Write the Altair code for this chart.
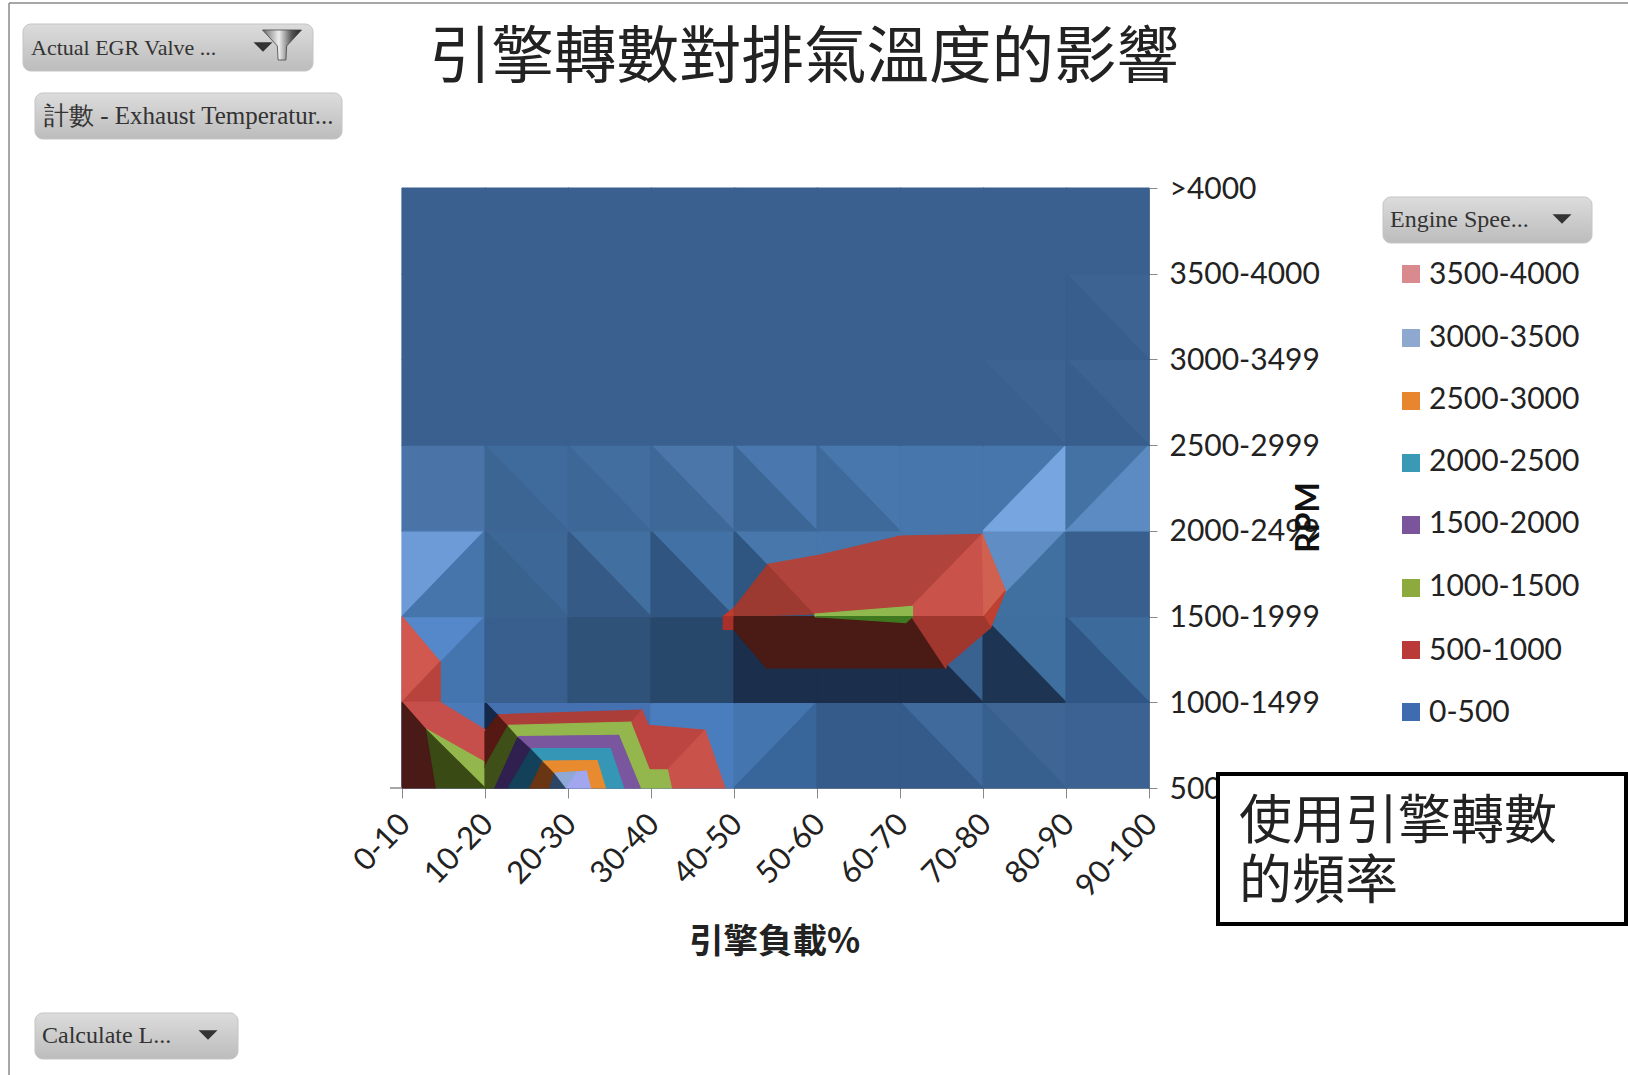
import altair as alt
import pandas as pd

# Category labels
LOAD_BINS = ["0-10", "10-20", "20-30", "30-40", "40-50", "50-60", "60-70", "70-80", "80-90", "90-100"]
RPM_BINS = ["500-999", "1000-1499", "1500-1999", "2000-2499", "2500-2999", "3000-3499", "3500-4000", ">4000"]
SERIES = ["3500-4000", "3000-3500", "2500-3000", "2000-2500", "1500-2000", "1000-1500", "500-1000", "0-500"]
SERIES_COLORS = ["#D98A8E", "#8FA8D0", "#E8852F", "#3A9AB5", "#7B559C", "#8DAA3F", "#B93A36", "#3F6CB0"]

# Surface cells, bottom row first: (diagonal, first facet shade, second facet shade).
# "\\" splits a cell top-left to bottom-right (upper-right facet, lower-left facet);
# "/" splits it bottom-left to top-right (upper-left facet, lower-right facet).
FLAT = "#3A6090"
ROW_0 = [("\\", "#4A7AB8", "#4A7AB8"), ("\\", "#4571B0", "#14284A"), ("\\", "#4571B0", "#4571B0"),
         ("\\", "#4A7DBD", "#4A7DBD"), ("/", "#4575AF", "#38659A"), ("\\", "#345B89", "#345B89"),
         ("\\", "#406A9C", "#345B89"), ("\\", "#3E6594", "#37608F"), ("\\", "#3B6292", "#3B6292")]
ROW_1 = [("/", "#5588CA", "#4575AE"), ("\\", "#385F8E", "#385F8E"), ("\\", "#2F5279", "#2F5279"),
         ("\\", "#28486B", "#28486B"), ("\\", "#1B2F4C", "#1B2F4C"), ("\\", "#1B2F4C", "#1B2F4C"),
         ("\\", "#3A6290", "#1B2F4C"), ("\\", "#3F6F9F", "#1D3552"), ("\\", "#3C6A9A", "#2F5684")]
ROW_2 = [("/", "#6C9BD8", "#4575AB"), ("\\", "#3C6796", "#3A628F"), ("\\", "#416F9F", "#355A85"),
         ("\\", "#4272A5", "#305580"), ("\\", "#4777AB", "#2F5680"), ("\\", "#4676AB", "#4676AB"),
         ("\\", "#4676AB", "#4676AB"), ("/", "#5F8DC4", "#40709F"), ("\\", "#385F8E", "#385F8E")]
ROW_3 = [("\\", "#4A74A8", "#4A74A8"), ("\\", "#3F6B9C", "#3C6594"), ("\\", "#416D9F", "#3C6796"),
         ("\\", "#4A76AA", "#3D6897"), ("\\", "#4A78AE", "#3B6695"), ("\\", "#4777AC", "#3D6A9A"),
         ("\\", "#4676AB", "#4676AB"), ("/", "#4676AB", "#76A5DF"), ("/", "#4472A5", "#5B8BC2")]
ROW_4 = [("\\", FLAT, FLAT)] * 7 + [("\\", "#3C6392", FLAT), ("\\", "#3C6392", "#385E8D")]
ROW_5 = [("\\", FLAT, FLAT)] * 8 + [("\\", "#3C6392", "#385E8D")]
ROW_6 = [("\\", FLAT, FLAT)] * 9
SURFACE_ROWS = [ROW_0, ROW_1, ROW_2, ROW_3, ROW_4, ROW_5, ROW_6]

# Contour regions as (load, rpm) vertices in axis units, with their shaded colours
CONTOURS = [
    ("#D0584E", [(0, 2.0), (0.46, 1.47), (0, 1.0)]),
    ("#B8433D", [(0, 1.0), (0.46, 1.47), (0.46, 1.0)]),
    ("#C64F4B", [(0, 1.0), (0.46, 1.0), (1, 0.68), (1, 0.30), (0.28, 0.69)]),
    ("#94B74D", [(0.28, 0.69), (1, 0.30), (1, 0)]),
    ("#3A4A14", [(0.28, 0.69), (1, 0), (0.40, 0)]),
    ("#4A1A16", [(0, 1.0), (0.28, 0.69), (0.40, 0), (0, 0)]),
    ("#551812", [(1, 0.66), (1.16, 0.856), (1.28, 0.73), (1, 0.25)]),
    ("#3E5018", [(1, 0.25), (1.28, 0.73), (1.40, 0.60), (1.12, 0), (1, 0)]),
    ("#2F2050", [(1.40, 0.60), (1.56, 0.46), (1.28, 0), (1.12, 0)]),
    ("#14415A", [(1.56, 0.46), (1.70, 0.315), (1.54, 0), (1.28, 0)]),
    ("#6A3512", [(1.70, 0.315), (1.84, 0.175), (1.78, 0), (1.54, 0)]),
    ("#2C4565", [(1.84, 0.175), (1.98, 0), (1.78, 0)]),
    ("#AC3E3A", [(1.16, 0.856), (2.89, 0.907), (2.77, 0.77), (1.28, 0.73)]),
    ("#94B74D", [(1.28, 0.73), (2.77, 0.77), (2.99, 0.226), (3.21, 0.226), (3.26, 0), (2.87, 0),
                 (2.61, 0.615), (1.40, 0.60)]),
    ("#7A569E", [(1.40, 0.60), (2.61, 0.615), (2.87, 0), (2.67, 0), (2.51, 0.46), (1.56, 0.46)]),
    ("#3596B6", [(1.56, 0.46), (2.51, 0.46), (2.67, 0), (2.45, 0), (2.35, 0.32), (1.70, 0.315)]),
    ("#E88A2E", [(1.70, 0.315), (2.35, 0.32), (2.45, 0), (2.27, 0), (2.22, 0.20), (1.84, 0.175)]),
    ("#8FA9D6", [(1.84, 0.175), (2.12, 0.19), (1.98, 0)]),
    ("#A2A6EE", [(1.98, 0), (2.12, 0.19), (2.22, 0.20), (2.27, 0)]),
    ("#BC4541", [(2.89, 0.907), (2.97, 0.73), (3.65, 0.673), (3.27, 0.284), (3.21, 0.226), (2.99, 0.226),
                 (2.77, 0.77)]),
    ("#C9524A", [(3.65, 0.673), (3.89, 0), (3.26, 0), (3.21, 0.226), (3.27, 0.284)]),
    ("#C23A2C", [(3.87, 2.0), (4, 2.1), (4, 2.0)]),
    ("#A8302A", [(3.87, 2.0), (4, 2.0), (4, 1.85), (3.87, 1.85)]),
    ("#9C3A31", [(4, 2.1), (4.41, 2.61), (4.97, 2.03), (4, 2.0)]),
    ("#B0443C", [(4.41, 2.61), (5, 2.71), (6, 2.94), (6.99, 2.96), (6.13, 2.105), (4.97, 2.03)]),
    ("#C9524A", [(6.99, 2.96), (7.01, 2.0), (6.14, 2.0), (6.13, 2.105)]),
    ("#D0604F", [(6.99, 2.96), (7.27, 2.3), (7.01, 2.0)]),
    ("#BE4030", [(7.27, 2.3), (7.09, 1.87), (7.01, 2.0)]),
    ("#4A1A14", [(4, 2.0), (6.14, 2.0), (6.55, 1.40), (4.39, 1.40), (4, 1.85)]),
    ("#A0372F", [(6.14, 2.0), (7.01, 2.0), (7.09, 1.87), (6.57, 1.44), (6.55, 1.40)]),
    ("#8FB84E", [(4.97, 2.03), (6.15, 2.12), (6.15, 2.0), (4.98, 2.0)]),
    ("#3F7A20", [(4.98, 2.0), (6.15, 2.0), (6.07, 1.93)]),
]

# Page geometry
LEFT, TOP, PLOT_W, PLOT_H = 402, 188, 747, 600
INK = "#222222"
AXIS_GREY = "#8a8a8a"
SANS = "Lato"
CJK = "Noto Sans CJK TC"
SERIF = "Liberation Serif"


def surface_polygons():
    rows = []
    pid = 0
    for j, row in enumerate(SURFACE_ROWS):
        for i, (diagonal, first, second) in enumerate(row):
            tl, tr, bl, br = (i, j + 1), (i + 1, j + 1), (i, j), (i + 1, j)
            if diagonal == "\\":
                facets = [(first, [tl, tr, br]), (second, [tl, br, bl])]
            else:
                facets = [(first, [bl, tl, tr]), (second, [bl, tr, br])]
            for shade, pts in facets:
                rows += polygon_rows(pid, shade, pts)
                pid += 1
    return rows


def polygon_rows(pid, shade, pts):
    closed = list(pts) + [pts[0]]
    return [{"pid": pid, "step": k, "shade": shade, "load": p[0], "rpm": p[1]} for k, p in enumerate(closed)]


surface_df = pd.DataFrame(surface_polygons())
contour_df = pd.DataFrame([r for n, (shade, pts) in enumerate(CONTOURS) for r in polygon_rows(n, shade, pts)])

x_enc = alt.X(
    "load:Q",
    scale=alt.Scale(domain=[0, 9], nice=False, zero=False),
    axis=alt.Axis(
        values=list(range(len(LOAD_BINS))),
        labelExpr=f"{LOAD_BINS}[datum.value]",
        labelAngle=-46, labelAlign="right", labelBaseline="middle", labelPadding=21, labelOffset=3,
        labelFont=SANS, labelFontSize=31, labelColor=INK, labelOverlap=False, labelBound=False,
        labelFlush=False, tickColor=AXIS_GREY, tickSize=10, domainColor=AXIS_GREY, grid=False,
        title="引擎負載%", titleFont=CJK, titleFontSize=34.5, titleFontWeight="bold", titleColor=INK,
        titleX=372, titleY=137, titleAlign="center",
    ),
)
y_enc = alt.Y(
    "rpm:Q",
    scale=alt.Scale(domain=[0, 7], nice=False, zero=False),
    axis=alt.Axis(
        orient="right", values=list(range(len(RPM_BINS))),
        labelExpr=f"{RPM_BINS}[datum.value]",
        labelAlign="left", labelBaseline="middle", labelPadding=12, labelOffset=1,
        labelFont=SANS, labelFontSize=30, labelColor=INK, labelOverlap=False, labelBound=False,
        labelFlush=False, tickColor=AXIS_GREY, tickSize=8, domainColor=AXIS_GREY, grid=False,
        title="RPM", titleFont=SANS, titleFontSize=32, titleFontWeight="bold", titleColor="#111111",
        titleX=176, titleY=329, titleAngle=-90, titleAlign="center",
    ),
)


def polygons(frame):
    return alt.Chart(frame).mark_line(strokeWidth=1.2).encode(
        x=x_enc, y=y_enc,
        detail="pid:N", order="step:Q",
        fill=alt.Fill("shade:N", scale=None),
        stroke=alt.Stroke("shade:N", scale=None),
    )


def px(v):
    return v - LEFT


def py(v):
    return v - TOP


ID_X = dict(scale=None, axis=None)
ID_Y = dict(scale=None, axis=None)

# Slicer buttons: label, left, top, right, bottom, text start, text size
BUTTON_LABELS = ["Actual EGR Valve ...", "計數 - Exhaust Temperatur...", "Engine Spee...", "Calculate L..."]
BUTTON_LEFT = [23, 35, 1383, 35]
BUTTON_RIGHT = [313, 342, 1592, 238]
BUTTON_TOP = [24, 93, 197, 1013]
BUTTON_BOTTOM = [71, 139, 243, 1059]
BUTTON_TEXT_X = [31, 44, 1390, 42]
BUTTON_FONT = [22, 25, 24, 24]
ARROW_X = [263, 1562, 208]
ARROW_Y = [47, 219, 1035]

buttons_df = pd.DataFrame({
    "label": BUTTON_LABELS,
    "x0": [px(v) for v in BUTTON_LEFT], "x1": [px(v) for v in BUTTON_RIGHT],
    "y0": [py(v) for v in BUTTON_TOP], "y1": [py(v) for v in BUTTON_BOTTOM],
    "tx": [px(v) for v in BUTTON_TEXT_X],
    "ty": [py((a + b) / 2) for a, b in zip(BUTTON_TOP, BUTTON_BOTTOM)],
    "fs": BUTTON_FONT,
})
button_fill = alt.Gradient(
    gradient="linear", x1=0, x2=0, y1=0, y2=1,
    stops=[alt.GradientStop(offset=0, color="#dcdcdc"), alt.GradientStop(offset=1, color="#bcbcbc")],
)
button_rects = alt.Chart(buttons_df).mark_rect(
    fill=button_fill, stroke="#c4c4c4", strokeWidth=1, cornerRadius=8
).encode(
    x=alt.X("x0:Q", **ID_X), x2="x1:Q", y=alt.Y("y0:Q", **ID_Y), y2="y1:Q"
)
button_text = alt.Chart(buttons_df).mark_text(
    font=SERIF, color="#333333", align="left", baseline="middle"
).encode(
    x=alt.X("tx:Q", **ID_X), y=alt.Y("ty:Q", **ID_Y), text="label:N",
    size=alt.Size("fs:Q", scale=None, legend=None),
)

arrow_df = pd.DataFrame({"ax": [px(v) for v in ARROW_X], "ay": [py(v) for v in ARROW_Y]})
arrows = alt.Chart(arrow_df).mark_point(
    shape="M-1,-0.5 L1,-0.5 L0,0.5 Z", filled=True, fill="#333333", stroke=None, opacity=1, size=361
).encode(x=alt.X("ax:Q", **ID_X), y=alt.Y("ay:Q", **ID_Y))

funnel_fill = alt.Gradient(
    gradient="linear", x1=0, x2=1, y1=0, y2=0,
    stops=[alt.GradientStop(offset=0, color="#666666"), alt.GradientStop(offset=0.42, color="#eeeeee"),
           alt.GradientStop(offset=0.75, color="#555555"), alt.GradientStop(offset=1, color="#222222")],
)
funnel_df = pd.DataFrame({"ax": [px(282)], "ay": [py(45)]})
funnel = alt.Chart(funnel_df).mark_point(
    shape="M-1,-0.77 L1,-0.77 L0.24,0.05 L0.2,0.77 L-0.2,0.77 L-0.24,0.05 Z",
    filled=True, fill=funnel_fill, stroke="#444444", strokeWidth=0.8, opacity=1, size=1521,
).encode(x=alt.X("ax:Q", **ID_X), y=alt.Y("ay:Q", **ID_Y))

# Legend built from the series arrays
LEGEND_SWATCH_Y = [274, 338, 401, 463, 525, 588, 650, 712]
LEGEND_TEXT_Y = [275, 337.5, 400, 462, 524, 587, 651, 713]
legend_df = pd.DataFrame({
    "series": SERIES, "swatch": SERIES_COLORS,
    "sx": [px(1411)] * len(SERIES), "tx": [px(1429)] * len(SERIES),
    "sy": [py(v) for v in LEGEND_SWATCH_Y],
    "ly": [py(v) for v in LEGEND_TEXT_Y],
})
legend_swatches = alt.Chart(legend_df).mark_square(size=324, opacity=1).encode(
    x=alt.X("sx:Q", **ID_X), y=alt.Y("sy:Q", **ID_Y), fill=alt.Fill("swatch:N", scale=None)
)
legend_text = alt.Chart(legend_df).mark_text(
    font=SANS, fontSize=30, color=INK, align="left", baseline="middle"
).encode(x=alt.X("tx:Q", **ID_X), y=alt.Y("ly:Q", **ID_Y), text="series:N")

# Outer frame of the sheet and the stray tick at the plot's lower left
frame_df = pd.DataFrame({
    "x0": [px(9), px(9), -12], "x1": [px(9), px(1628), 0],
    "y0": [py(3), py(3), PLOT_H], "y1": [py(1075), py(3), PLOT_H],
})
frame_lines = alt.Chart(frame_df).mark_rule(color=AXIS_GREY, strokeWidth=1.5).encode(
    x=alt.X("x0:Q", **ID_X), x2="x1:Q", y=alt.Y("y0:Q", **ID_Y), y2="y1:Q"
)

# Callout box over the chart's lower right
NOTE_LINES = ["使用引擎轉數", "的頻率"]
NOTE_Y = [823, 883]
box_df = pd.DataFrame({"x0": [px(1218)], "x1": [px(1626)], "y0": [py(774)], "y1": [py(924)]})
note_box = alt.Chart(box_df).mark_rect(fill="white", stroke="black", strokeWidth=4).encode(
    x=alt.X("x0:Q", **ID_X), x2="x1:Q", y=alt.Y("y0:Q", **ID_Y), y2="y1:Q"
)
note_df = pd.DataFrame({"note": NOTE_LINES, "tx": [px(1239)] * 2, "ty": [py(v) for v in NOTE_Y]})
note_text = alt.Chart(note_df).mark_text(
    font=CJK, fontSize=53, color=INK, align="left", baseline="middle"
).encode(x=alt.X("tx:Q", **ID_X), y=alt.Y("ty:Q", **ID_Y), text="note:N")

# Chart heading
TITLE_TEXT = "引擎轉數對排氣溫度的影響"
title_df = pd.DataFrame({"title": [TITLE_TEXT], "tx": [px(804)], "ty": [py(59)]})
title_mark = alt.Chart(title_df).mark_text(
    font=CJK, fontSize=62.5, color=INK, align="center", baseline="middle"
).encode(x=alt.X("tx:Q", **ID_X), y=alt.Y("ty:Q", **ID_Y), text="title:N")

chart = alt.layer(
    polygons(surface_df), polygons(contour_df),
    frame_lines, title_mark, button_rects, button_text, arrows, funnel,
    legend_swatches, legend_text, note_box, note_text,
).properties(
    width=PLOT_W, height=PLOT_H,
    padding={"left": LEFT, "top": TOP, "right": 1628 - LEFT - PLOT_W, "bottom": 1075 - TOP - PLOT_H},
    autosize=alt.AutoSizeParams(type="none"),
).configure_view(stroke=AXIS_GREY, strokeWidth=1).configure(background="white")

chart.save("out.html", embed_options={"renderer": "svg", "actions": False})
